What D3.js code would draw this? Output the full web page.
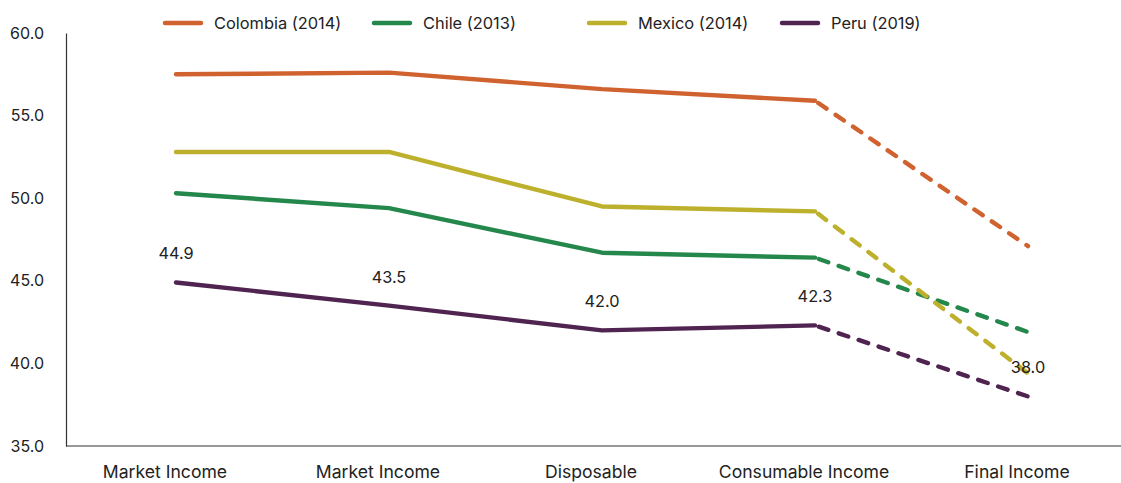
<!DOCTYPE html>
<html>
<head>
<meta charset="utf-8">
<script src="https://cdn.jsdelivr.net/npm/d3@7"></script>
<style>
  html, body { margin: 0; padding: 0; background: #fff; }
  svg { display: block; font-family: Inter, "Noto Sans", sans-serif; }
</style>
</head>
<body>
<svg id="chart" width="1121" height="483"></svg>
<script>
// Income concepts along the x axis
const categories = ["Market Income A", "Market Income B", "Disposable", "Consumable Income", "Final Income"];
const categoryLabels = ["Market Income", "Market Income", "Disposable", "Consumable Income", "Final Income"];

// Gini coefficient (x100) by income concept
const colombia = [57.5, 57.6, 56.6, 55.9, 47.1];
const chile    = [50.3, 49.4, 46.7, 46.4, 41.9];
const mexico   = [52.8, 52.8, 49.5, 49.2, 39.4];
const peru     = [44.9, 43.5, 42.0, 42.3, 38.0];

const seriesNames  = ["Colombia (2014)", "Chile (2013)", "Mexico (2014)", "Peru (2019)"];
const seriesValues = [colombia, chile, mexico, peru];
const seriesColors = ["#d0622f", "#24874b", "#bdb02c", "#4f2450"];

const yTicks = [35, 40, 45, 50, 55, 60];

const svg = d3.select("#chart");
const plot = { left: 66, right: 1121, top: 33, bottom: 446 };

const x = d3.scalePoint().domain(categories).range([176, 1028]);
const y = d3.scaleLinear().domain([35, 60]).range([plot.bottom, plot.top]);

// Axes: plain lines, no tick marks
const yAxis = svg.append("g")
  .attr("transform", `translate(${plot.left},0)`)
  .call(d3.axisLeft(y).tickValues(yTicks).tickFormat(d3.format(".1f")).tickSize(0).tickPadding(22));
yAxis.select(".domain").attr("stroke", "#333").attr("stroke-width", 1.2);
yAxis.selectAll("text").attr("font-size", 16).attr("fill", "#222").attr("font-family", "Inter, 'Noto Sans', sans-serif");

const xAxisG = svg.append("g")
  .attr("transform", `translate(0,${plot.bottom})`);
xAxisG.append("line")
  .attr("x1", plot.left).attr("x2", plot.right)
  .attr("y1", 0).attr("y2", 0)
  .attr("stroke", "#333").attr("stroke-width", 1.2);
xAxisG.selectAll("text.cat")
  .data(categories)
  .join("text")
  .attr("class", "cat")
  .attr("x", d => x(d) - 11)
  .attr("y", 26)
  .attr("dy", "0.35em")
  .attr("text-anchor", "middle")
  .attr("font-size", 17.6)
  .attr("fill", "#222")
  .text((d, i) => categoryLabels[i]);

// Lines: solid through Consumable Income, dashed to Final Income
const line = d3.line().x(d => x(d.c)).y(d => y(d.v));
const lastSolid = 3;

seriesValues.forEach((vals, si) => {
  const pts = vals.map((v, i) => ({ c: categories[i], v }));
  const g = svg.append("g");
  g.append("path")
    .attr("d", line(pts.slice(0, lastSolid + 1)))
    .attr("fill", "none")
    .attr("stroke", seriesColors[si])
    .attr("stroke-width", 4.4)
    .attr("stroke-linejoin", "round")
    .attr("stroke-linecap", "round");
  g.append("path")
    .attr("d", line(pts.slice(lastSolid)))
    .attr("fill", "none")
    .attr("stroke", seriesColors[si])
    .attr("stroke-width", 4.4)
    .attr("stroke-dasharray", "10 11")
    .attr("stroke-dashoffset", -4)
    .attr("stroke-linecap", "round");
});

// Value labels for Peru
svg.append("g").selectAll("text")
  .data(peru)
  .join("text")
  .attr("x", (d, i) => x(categories[i]))
  .attr("y", d => y(d) - 23)
  .attr("text-anchor", "middle")
  .attr("font-size", 16.3)
  .attr("fill", "#222")
  .text(d => d3.format(".1f")(d));

// Legend
const legendX = [163, 372, 587, 780];
const legend = svg.append("g").attr("transform", "translate(0,23)");
seriesNames.forEach((name, i) => {
  const lg = legend.append("g").attr("transform", `translate(${legendX[i]},0)`);
  lg.append("line")
    .attr("x1", 2).attr("x2", 38)
    .attr("y1", 0).attr("y2", 0)
    .attr("stroke", seriesColors[i])
    .attr("stroke-width", 4.5)
    .attr("stroke-linecap", "round");
  lg.append("text")
    .attr("x", 51)
    .attr("dy", "0.35em")
    .attr("font-size", 16.4)
    .attr("fill", "#222")
    .text(name);
});
</script>
</body>
</html>
